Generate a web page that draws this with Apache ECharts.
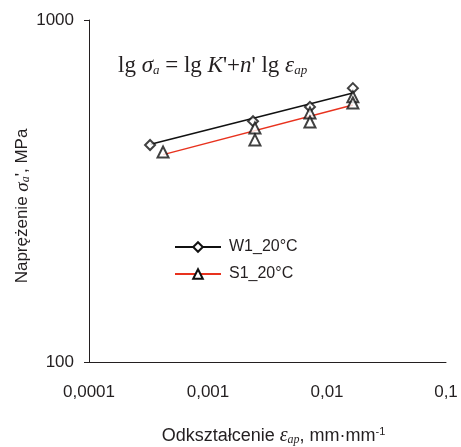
<!DOCTYPE html>
<html><head><meta charset="utf-8">
<script src="https://cdn.jsdelivr.net/npm/echarts@6/dist/echarts.min.js"></script>
<style>html,body{margin:0;padding:0;background:#fff}#c{width:461px;height:447px}</style>
</head><body><div id="c"></div>
<script>
// Data
var xTickLabels = ['0,0001', '0,001', '0,01', '0,1'];
var yTickLabels = ['100', '1000'];
var w1Strain = [0.000326, 0.00239, 0.00719, 0.0165];
var w1Stress = [431, 506, 557, 632];
var s1Strain = [0.000419, 0.00248, 0.00248, 0.00719, 0.00719, 0.0165, 0.0165];
var s1Stress = [411, 483, 446, 535, 503, 596, 572];
var w1FitStrain = [0.00033, 0.0165];
var w1FitStress = [433, 612];
var s1FitStrain = [0.00042, 0.0165];
var s1FitStress = [404, 564];

function pairs(xs, ys) { return xs.map(function (x, i) { return [x, ys[i]]; }); }
function noSym(xs, ys) { return xs.map(function (x, i) { return { value: [x, ys[i]], symbol: 'none' }; }); }

var txt = '#231f20';
var chart = echarts.init(document.getElementById('c'));
chart.setOption({
  animation: false,
  backgroundColor: '#fff',
  grid: { left: 89, right: 15, top: 20, bottom: 85, containLabel: false, outerBoundsMode: 'none' },
  xAxis: {
    type: 'log', logBase: 10, min: 0.0001, max: 0.1,
    axisLine: { lineStyle: { color: txt, width: 1 } },
    axisTick: { show: false },
    minorTick: { show: false },
    splitLine: { show: false },
    axisLabel: {
      color: txt, fontFamily: 'Liberation Sans', fontSize: 17, margin: 22, hideOverlap: false,
      formatter: function (v) { var i = Math.round(Math.log10(v)) + 4; return xTickLabels[i] || ''; }
    },
    name: '{n|Odkształcenie }{e|ε}{s|ap}{n|, mm·mm}{p|-1}',
    nameLocation: 'middle', nameGap: 64, nameMoveOverlap: false,
    nameTextStyle: {
      padding: [0, 0, 0, 12],
      rich: {
        n: { fontFamily: 'Liberation Sans', fontSize: 18, color: txt },
        e: { fontFamily: 'Liberation Serif', fontStyle: 'italic', fontSize: 20, color: txt },
        s: { fontFamily: 'Liberation Serif', fontStyle: 'italic', fontSize: 12, color: txt, verticalAlign: 'bottom', padding: [7, 0, 0, 0] },
        p: { fontFamily: 'Liberation Sans', fontSize: 11, color: txt, verticalAlign: 'top', padding: [0, 0, 7, 0] }
      }
    }
  },
  yAxis: {
    type: 'log', logBase: 10, min: 100, max: 1000,
    axisLine: { show: true, lineStyle: { color: txt, width: 1 } },
    axisTick: { show: true, length: 5, lineStyle: { color: txt } },
    splitLine: { show: false },
    axisLabel: {
      color: txt, fontFamily: 'Liberation Sans', fontSize: 17, margin: 15,
      formatter: function (v) { var i = Math.round(Math.log10(v)) - 2; return yTickLabels[i] || ''; }
    },
    name: '{n|Naprężenie }{e|σ}{s|a}{n|\', MPa}',
    nameLocation: 'middle', nameGap: 57, nameMoveOverlap: false,
    nameTextStyle: {
      padding: [0, 30, 0, 0],
      rich: {
        n: { fontFamily: 'Liberation Sans', fontSize: 17, color: txt },
        e: { fontFamily: 'Liberation Serif', fontStyle: 'italic', fontSize: 19, color: txt },
        s: { fontFamily: 'Liberation Serif', fontStyle: 'italic', fontSize: 12, color: txt, verticalAlign: 'bottom', padding: [7, 0, 0, 0] }
      }
    }
  },
  legend: {
    left: 169, top: 234, orient: 'vertical', itemWidth: 46, itemHeight: 12, itemGap: 11,
    data: ['W1_20°C', 'S1_20°C'],
    textStyle: { fontFamily: 'Liberation Sans', fontSize: 16, color: txt, padding: [0, 0, 0, 3] }
  },
  graphic: [{
    type: 'text', left: 118, top: 54,
    style: {
      text: '{r|lg }{i|σ}{s|a}{r| = lg }{i|K}{r|\'+}{i|n}{r|\' lg }{i|ε}{s|ap}',
      rich: {
        r: { fontFamily: 'Liberation Serif', fontSize: 23, fill: txt },
        i: { fontFamily: 'Liberation Serif', fontStyle: 'italic', fontSize: 23, fill: txt },
        s: { fontFamily: 'Liberation Serif', fontStyle: 'italic', fontSize: 13, fill: txt, verticalAlign: 'bottom', padding: [10, 0, 0, 0] }
      }
    }
  }],
  series: [
    { name: 'W1_20°C', type: 'line', data: noSym(w1FitStrain, w1FitStress), symbol: 'diamond', symbolSize: 10,
      itemStyle: { color: '#fff', borderColor: '#111', borderWidth: 2 }, lineStyle: { color: '#111', width: 1.5 }, z: 3 },
    { name: 'S1_20°C', type: 'line', data: noSym(s1FitStrain, s1FitStress), symbol: 'triangle', symbolSize: 11,
      itemStyle: { color: '#fff', borderColor: '#111', borderWidth: 2 }, lineStyle: { color: '#e8321e', width: 1.5 }, z: 3 },
    { name: 'W1_20°C', type: 'scatter', data: pairs(w1Strain, w1Stress), symbol: 'diamond', symbolSize: 10,
      itemStyle: { color: '#fff', borderColor: '#111', borderWidth: 2 }, z: 4 },
    { name: 'S1_20°C', type: 'scatter', data: pairs(s1Strain, s1Stress), symbol: 'triangle', symbolSize: 11,
      itemStyle: { color: '#fff', borderColor: '#111', borderWidth: 2 }, z: 4 }
  ]
});
</script></body></html>
